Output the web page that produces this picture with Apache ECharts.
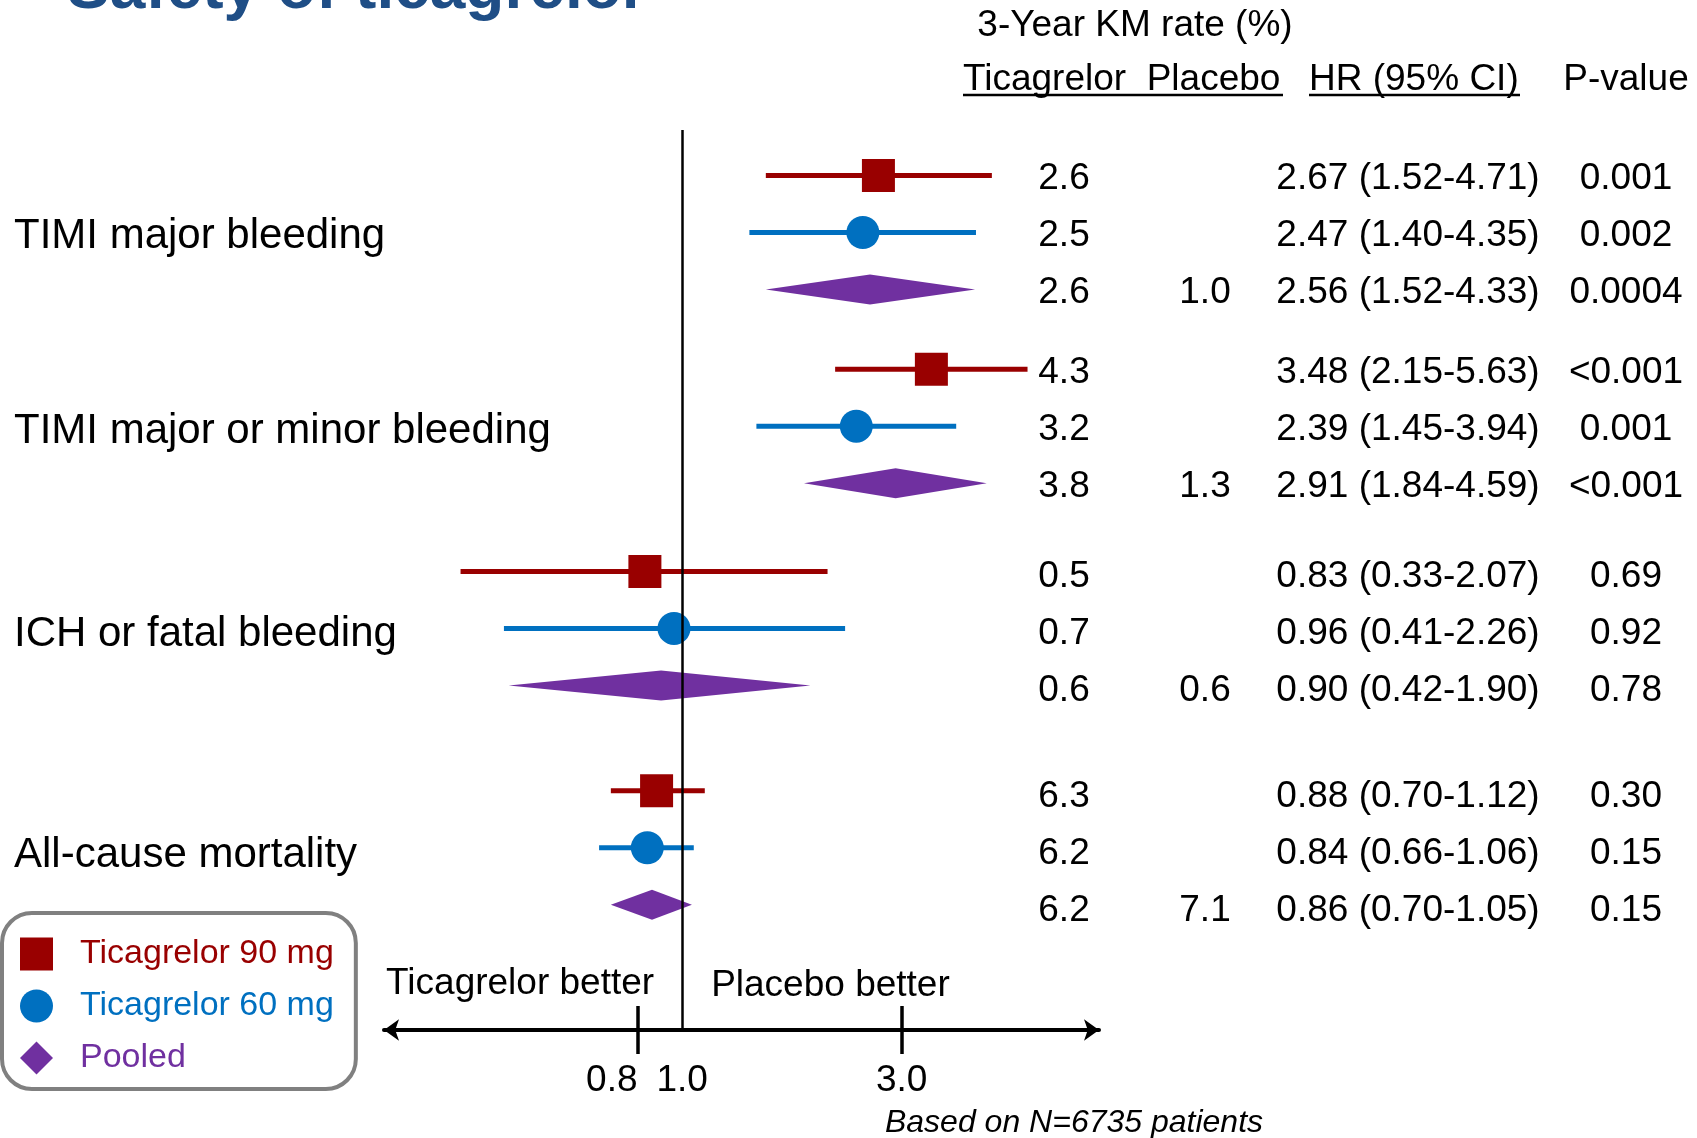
<!DOCTYPE html>
<html>
<head>
<meta charset="utf-8">
<script src="https://cdn.jsdelivr.net/npm/echarts@6/dist/echarts.min.js"></script>
<style>
  html, body { margin: 0; padding: 0; background: #ffffff; }
  #chart { width: 1697px; height: 1138px; }
</style>
</head>
<body>
<div id="chart"></div>
<script>
// ---- Data ---------------------------------------------------------------
const outcomes = ['TIMI major bleeding', 'TIMI major or minor bleeding', 'ICH or fatal bleeding', 'All-cause mortality'];
const armNames = ['Ticagrelor 90 mg', 'Ticagrelor 60 mg', 'Pooled'];

// Hazard ratios with 95% CI, one entry per outcome
const hr90 = [2.67, 3.48, 0.83, 0.88];
const lo90 = [1.52, 2.15, 0.33, 0.70];
const hi90 = [4.71, 5.63, 2.07, 1.12];
const hr60 = [2.47, 2.39, 0.96, 0.84];
const lo60 = [1.40, 1.45, 0.41, 0.66];
const hi60 = [4.35, 3.94, 2.26, 1.06];
const hrPooled = [2.56, 2.91, 0.90, 0.86];
const loPooled = [1.52, 1.84, 0.42, 0.70];
const hiPooled = [4.33, 4.59, 1.90, 1.05];

// 3-year Kaplan-Meier rates (%)
const km90 = [2.6, 4.3, 0.5, 6.3];
const km60 = [2.5, 3.2, 0.7, 6.2];
const kmPooled = [2.6, 3.8, 0.6, 6.2];
const kmPlacebo = [1.0, 1.3, 0.6, 7.1];

// P-values
const p90 = ['0.001', '<0.001', '0.69', '0.30'];
const p60 = ['0.002', '0.001', '0.92', '0.15'];
const pPooled = ['0.0004', '<0.001', '0.78', '0.15'];

const hrTicks = [0.8, 1.0, 3.0];

// ---- Layout -------------------------------------------------------------
const FONT = "'Liberation Sans', Arial, Helvetica, sans-serif";
const COLORS = ['#990000', '#0070C0', '#7030A0'];
const GROUP_START = [0, 3.4, 6.95, 10.8];   // first row of each outcome block (row units)
const TEXT_SHIFT = [3, 4, 5.5, 6.5];         // px nudge of table text per block
const rowPos = (g, arm) => GROUP_START[g] + arm;

const hrSets = [[hr90, lo90, hi90], [hr60, lo60, hi60], [hrPooled, loPooled, hiPooled]];
const kmSets = [km90, km60, kmPooled];
const pSets = [p90, p60, pPooled];
const shapes = ['rect', 'circle', 'diamond'];

function armRows(arm) {
  const [hr, lo, hi] = hrSets[arm];
  return hr.map((h, g) => [h, lo[g], hi[g], rowPos(g, arm)]);
}

function renderArm(shape) {
  return function (params, api) {
    const y = api.value(3);
    const c = api.coord([api.value(0), y]);
    const a = api.coord([api.value(1), y]);
    const b = api.coord([api.value(2), y]);
    const color = api.visual('color');
    if (shape === 'diamond') {
      return {
        type: 'polygon',
        shape: { points: [[a[0], c[1]], [c[0], c[1] - 15], [b[0], c[1]], [c[0], c[1] + 15]] },
        style: { fill: color }
      };
    }
    const children = [{
      type: 'line',
      shape: { x1: a[0], y1: a[1], x2: b[0], y2: b[1] },
      style: { stroke: color, lineWidth: 5 }
    }];
    if (shape === 'rect') {
      children.push({ type: 'rect', shape: { x: c[0] - 16.5, y: c[1] - 16.5, width: 33, height: 33 }, style: { fill: color } });
    } else {
      children.push({ type: 'circle', shape: { cx: c[0], cy: c[1], r: 16.5 }, style: { fill: color } });
    }
    return { type: 'group', children };
  };
}

const chart = echarts.init(document.getElementById('chart'), null, { renderer: 'canvas' });

const tickLine = { color: '#000', width: 3.5 };
const xMin = 0.225, xMax = 8.05;
const lowTicks = hrTicks.filter(v => v < 1);
const tickMarks = hrTicks.filter(v => v !== 1);
const labelStyle = { fontSize: 37, color: '#000', fontFamily: FONT, margin: 32, hideOverlap: false,
                     formatter: v => Number(v).toFixed(1) };

const option = {
  animation: false,
  backgroundColor: '#ffffff',
  grid: { left: 384, right: 598, top: 130, bottom: 108, containLabel: false, outerBoundsMode: 'none' },
  xAxis: [
    {
      type: 'log', min: xMin, max: xMax, position: 'bottom',
      axisLine: { show: true, onZero: false, symbol: ['arrow', 'arrow'], symbolSize: [16, 15], lineStyle: { color: '#000', width: 4 } },
      axisTick: { show: true, customValues: tickMarks, length: 24, lineStyle: tickLine },
      axisLabel: Object.assign({ show: true, customValues: hrTicks.filter(v => v >= 1) }, labelStyle),
      splitLine: { show: false }, minorTick: { show: false }, minorSplitLine: { show: false }
    },
    {
      // upper half of the crossing tick marks; also carries the labels below 1,
      // right-aligned so they clear the 1.0 label on the log scale
      type: 'log', min: xMin, max: xMax, position: 'bottom',
      axisLine: { show: false, onZero: false },
      axisTick: { show: true, inside: true, customValues: tickMarks, length: 24, lineStyle: tickLine },
      axisLabel: Object.assign({ show: true, customValues: lowTicks, align: 'right' }, labelStyle),
      splitLine: { show: false }, minorTick: { show: false }
    }
  ],
  yAxis: {
    type: 'value', inverse: true, min: -0.8, max: 15, show: false,
    splitLine: { show: false }
  },
  legend: {
    orient: 'vertical', left: 2, top: 913,
    selectedMode: false,
    itemWidth: 33, itemHeight: 33, itemGap: 18,
    padding: [24, 22, 14, 18],
    borderColor: '#808080', borderWidth: 4, borderRadius: 30,
    textStyle: { fontSize: 34, lineHeight: 33, fontFamily: FONT, padding: [0, 0, 0, 22] },
    data: armNames.map((n, i) => ({ name: n, icon: shapes[i], textStyle: { color: COLORS[i] } }))
  },
  series: [
    ...armNames.map((name, arm) => ({
      name, type: 'custom',
      coordinateSystem: 'cartesian2d',
      itemStyle: { color: COLORS[arm] },
      encode: { x: [0, 1, 2], y: 3 },
      renderItem: renderArm(shapes[arm]),
      data: armRows(arm),
      z: 3
    })),
    {
      name: 'reference', type: 'line', data: [], silent: true,
      markLine: {
        silent: true, symbol: 'none', animation: false,
        label: { show: false },
        lineStyle: { color: '#000', width: 2.5, type: 'solid' },
        data: [{ xAxis: 1.0 }]
      }
    }
  ]
};
chart.setOption(option);

// ---- Text: titles, labels and the results table -------------------------
const yPx = v => chart.convertToPixel({ yAxisIndex: 0 }, v);
const xOne = chart.convertToPixel({ xAxisIndex: 0 }, 1.0);

function txt(text, x, y, opts) {
  return {
    type: 'text', x, y, silent: true,
    style: Object.assign({ text, fill: '#000', font: '37px ' + FONT, align: 'center', verticalAlign: 'middle' }, opts || {})
  };
}

const COL_KM = 1064, COL_PLACEBO = 1205, COL_HR = 1408, COL_P = 1626;
const graphics = [];

graphics.push(txt('Safety of ticagrelor', 67, -10, { font: 'bold 64px ' + FONT, fill: '#1F4E86', align: 'left' }));
graphics.push(txt('3-Year KM rate (%)', 1135, 26));
graphics.push(txt('Ticagrelor  Placebo', 963, 80, { align: 'left' }));
graphics.push(txt('HR (95% CI)', 1309, 80, { align: 'left' }));
graphics.push(txt('P-value', COL_P, 80));
graphics.push({ type: 'line', silent: true, shape: { x1: 963, y1: 95, x2: 1283, y2: 95 }, style: { stroke: '#000', lineWidth: 2.5 } });
graphics.push({ type: 'line', silent: true, shape: { x1: 1309, y1: 95, x2: 1520, y2: 95 }, style: { stroke: '#000', lineWidth: 2.5 } });

outcomes.forEach((name, g) => {
  const dy = TEXT_SHIFT[g];
  graphics.push(txt(name, 14, yPx(rowPos(g, 1)) + dy + 1, { font: '42px ' + FONT, align: 'left' }));
  for (let arm = 0; arm < 3; arm++) {
    const y = yPx(rowPos(g, arm)) + dy;
    const [hr, lo, hi] = hrSets[arm];
    graphics.push(txt(kmSets[arm][g].toFixed(1), COL_KM, y));
    if (arm === 2) graphics.push(txt(kmPlacebo[g].toFixed(1), COL_PLACEBO, y));
    graphics.push(txt(`${hr[g].toFixed(2)} (${lo[g].toFixed(2)}-${hi[g].toFixed(2)})`, COL_HR, y));
    graphics.push(txt(pSets[arm][g], COL_P, y));
  }
});

graphics.push(txt('Ticagrelor better', xOne - 28, 984, { align: 'right' }));
graphics.push(txt('Placebo better', xOne + 29, 986, { align: 'left' }));
graphics.push(txt('Based on N=6735 patients', 1074, 1123, { font: 'italic 32px ' + FONT }));

chart.setOption({ graphic: graphics });
</script>
</body>
</html>
